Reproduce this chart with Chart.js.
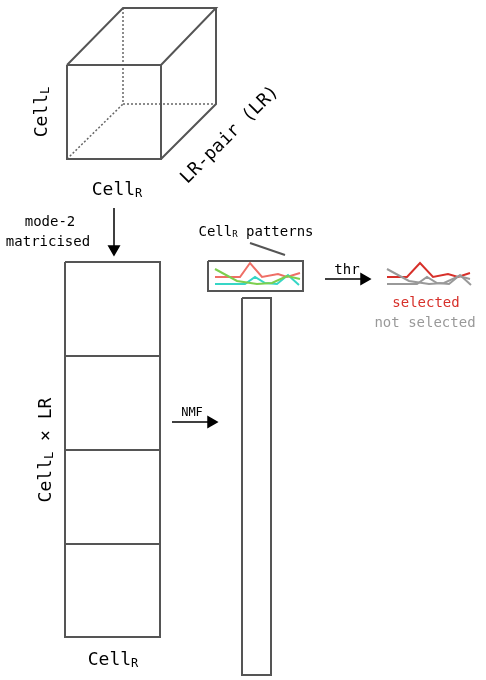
<!DOCTYPE html>
<html>
<head>
<meta charset="utf-8">
<script src="https://cdn.jsdelivr.net/npm/chart.js@4"></script>
<style>
  html, body { margin: 0; padding: 0; background: #fff; }
  canvas { display: block; }
</style>
</head>
<body>
<canvas id="c" width="486" height="680"></canvas>
<script>
// Diagram drawn on a pixel-like coordinate grid (x right, y down)
const cubeSolid = [
  [[67, 65], [161, 65], [161, 159], [67, 159], [67, 65]],
  [[67, 65], [123, 8], [216, 8], [161, 65]],
  [[216, 8], [216, 104], [161, 159]]
];
const cubeDotted = [
  [[123, 8], [123, 104], [216, 104]],
  [[67, 159], [123, 104]]
];
const boxes = [
  [[65, 262], [160, 262], [160, 637], [65, 637], [65, 262]],
  [[65, 356], [160, 356]],
  [[65, 450], [160, 450]],
  [[65, 544], [160, 544]],
  [[242, 298], [271, 298], [271, 675], [242, 675], [242, 298]],
  [[208, 261], [303, 261], [303, 291], [208, 291], [208, 261]],
  [[250, 243], [285, 255]]
];
const arrows = [
  { pts: [[114, 208], [114, 249]], rot: 180 },
  { pts: [[172, 422], [211, 422]], rot: 90 },
  { pts: [[325, 279], [364, 279]], rot: 90 }
];
const redPattern = [[215, 277], [240, 277], [250, 263], [262, 277], [278, 274], [287, 277], [300, 273]];
const greenPattern = [[215, 269], [237, 281], [257, 284], [272, 283], [287, 276], [300, 279]];
const cyanPattern = [[215, 284], [233, 284], [245, 284], [255, 277], [265, 283], [277, 284], [288, 275], [299, 285]];
const selPattern = [[387, 277], [407, 277], [420, 263], [433, 277], [448, 274], [458, 277], [470, 273]];
const grey1Pattern = [[387, 269], [409, 281], [429, 284], [444, 283], [459, 276], [470, 279]];
const grey2Pattern = [[387, 284], [405, 284], [417, 284], [427, 277], [437, 283], [449, 284], [460, 275], [471, 285]];

// text labels: [text, subscript, suffix, x, y, size, colour, rotation(deg)]
const labels = [
  ['Cell', 'L', '', 42, 112, 18, '#000', -90],
  ['Cell', 'R', '', 117, 190, 18, '#000', 0],
  ['LR-pair (LR)', '', '', 230, 135, 18, '#000', -45],
  ['mode-2', '', '', 50, 222, 14, '#000', 0],
  ['matricised', '', '', 48, 242, 14, '#000', 0],
  ['Cell', 'L', ' \u00d7 LR', 46, 450, 18, '#000', -90],
  ['Cell', 'R', '', 113, 660, 18, '#000', 0],
  ['NMF', '', '', 192, 413, 12, '#000', 0],
  ['Cell', 'R', ' patterns', 256, 232, 14, '#000', 0],
  ['thr', '', '', 347, 270, 14, '#000', 0],
  ['selected', '', '', 426, 303, 14, '#d7302a', 0],
  ['not selected', '', '', 425, 323, 14, '#999', 0]
];

const FONT = '"DejaVu Sans Mono", monospace';
const toXY = pts => pts.map(p => ({ x: p[0], y: p[1] }));
const datasets = [];
const addLine = (pts, color, width, dash) => datasets.push({
  data: toXY(pts), borderColor: color, borderWidth: width, borderDash: dash || [],
  pointRadius: 0, fill: false, tension: 0
});
cubeSolid.forEach(p => addLine(p, '#555', 2));
cubeDotted.forEach(p => addLine(p, '#666', 1.5, [2, 2]));
boxes.forEach(p => addLine(p, '#555', 2));
arrows.forEach(a => datasets.push({
  data: toXY(a.pts), borderColor: '#000', backgroundColor: '#000', borderWidth: 1.5,
  pointRadius: [0, 6], pointStyle: 'triangle', rotation: a.rot, fill: false
}));
addLine(greenPattern, '#7ccf4e', 2);
addLine(cyanPattern, '#36d6c6', 2);
addLine(redPattern, '#ef6f66', 2);
addLine(grey1Pattern, '#999', 2);
addLine(grey2Pattern, '#999', 2);
addLine(selPattern, '#d7302a', 2);

const textPlugin = {
  id: 'labels',
  afterDraw(chart) {
    const ctx = chart.ctx, xs = chart.scales.x, ys = chart.scales.y;
    labels.forEach(([t, sub, suf, x, y, size, col, rot]) => {
      ctx.save();
      ctx.translate(xs.getPixelForValue(x), ys.getPixelForValue(y));
      ctx.rotate(rot * Math.PI / 180);
      ctx.fillStyle = col;
      ctx.textBaseline = 'middle';
      const big = size + 'px ' + FONT, small = Math.round(size * 0.65) + 'px ' + FONT;
      ctx.font = big; const w1 = ctx.measureText(t).width, w3 = ctx.measureText(suf).width;
      ctx.font = small; const w2 = ctx.measureText(sub).width;
      let cx = -(w1 + w2 + w3) / 2;
      ctx.font = big; ctx.fillText(t, cx, 0); cx += w1;
      ctx.font = small; ctx.fillText(sub, cx, size * 0.2); cx += w2;
      ctx.font = big; ctx.fillText(suf, cx, 0);
      ctx.restore();
    });
  }
};

new Chart(document.getElementById('c'), {
  type: 'line',
  data: { datasets },
  options: {
    responsive: false,
    animation: false,
    layout: { padding: 0, autoPadding: false },
    plugins: { legend: { display: false }, tooltip: { enabled: false } },
    scales: {
      x: { type: 'linear', min: 0, max: 486, display: false },
      y: { type: 'linear', min: 0, max: 680, reverse: true, display: false }
    }
  },
  plugins: [textPlugin]
});
</script>
</body>
</html>
